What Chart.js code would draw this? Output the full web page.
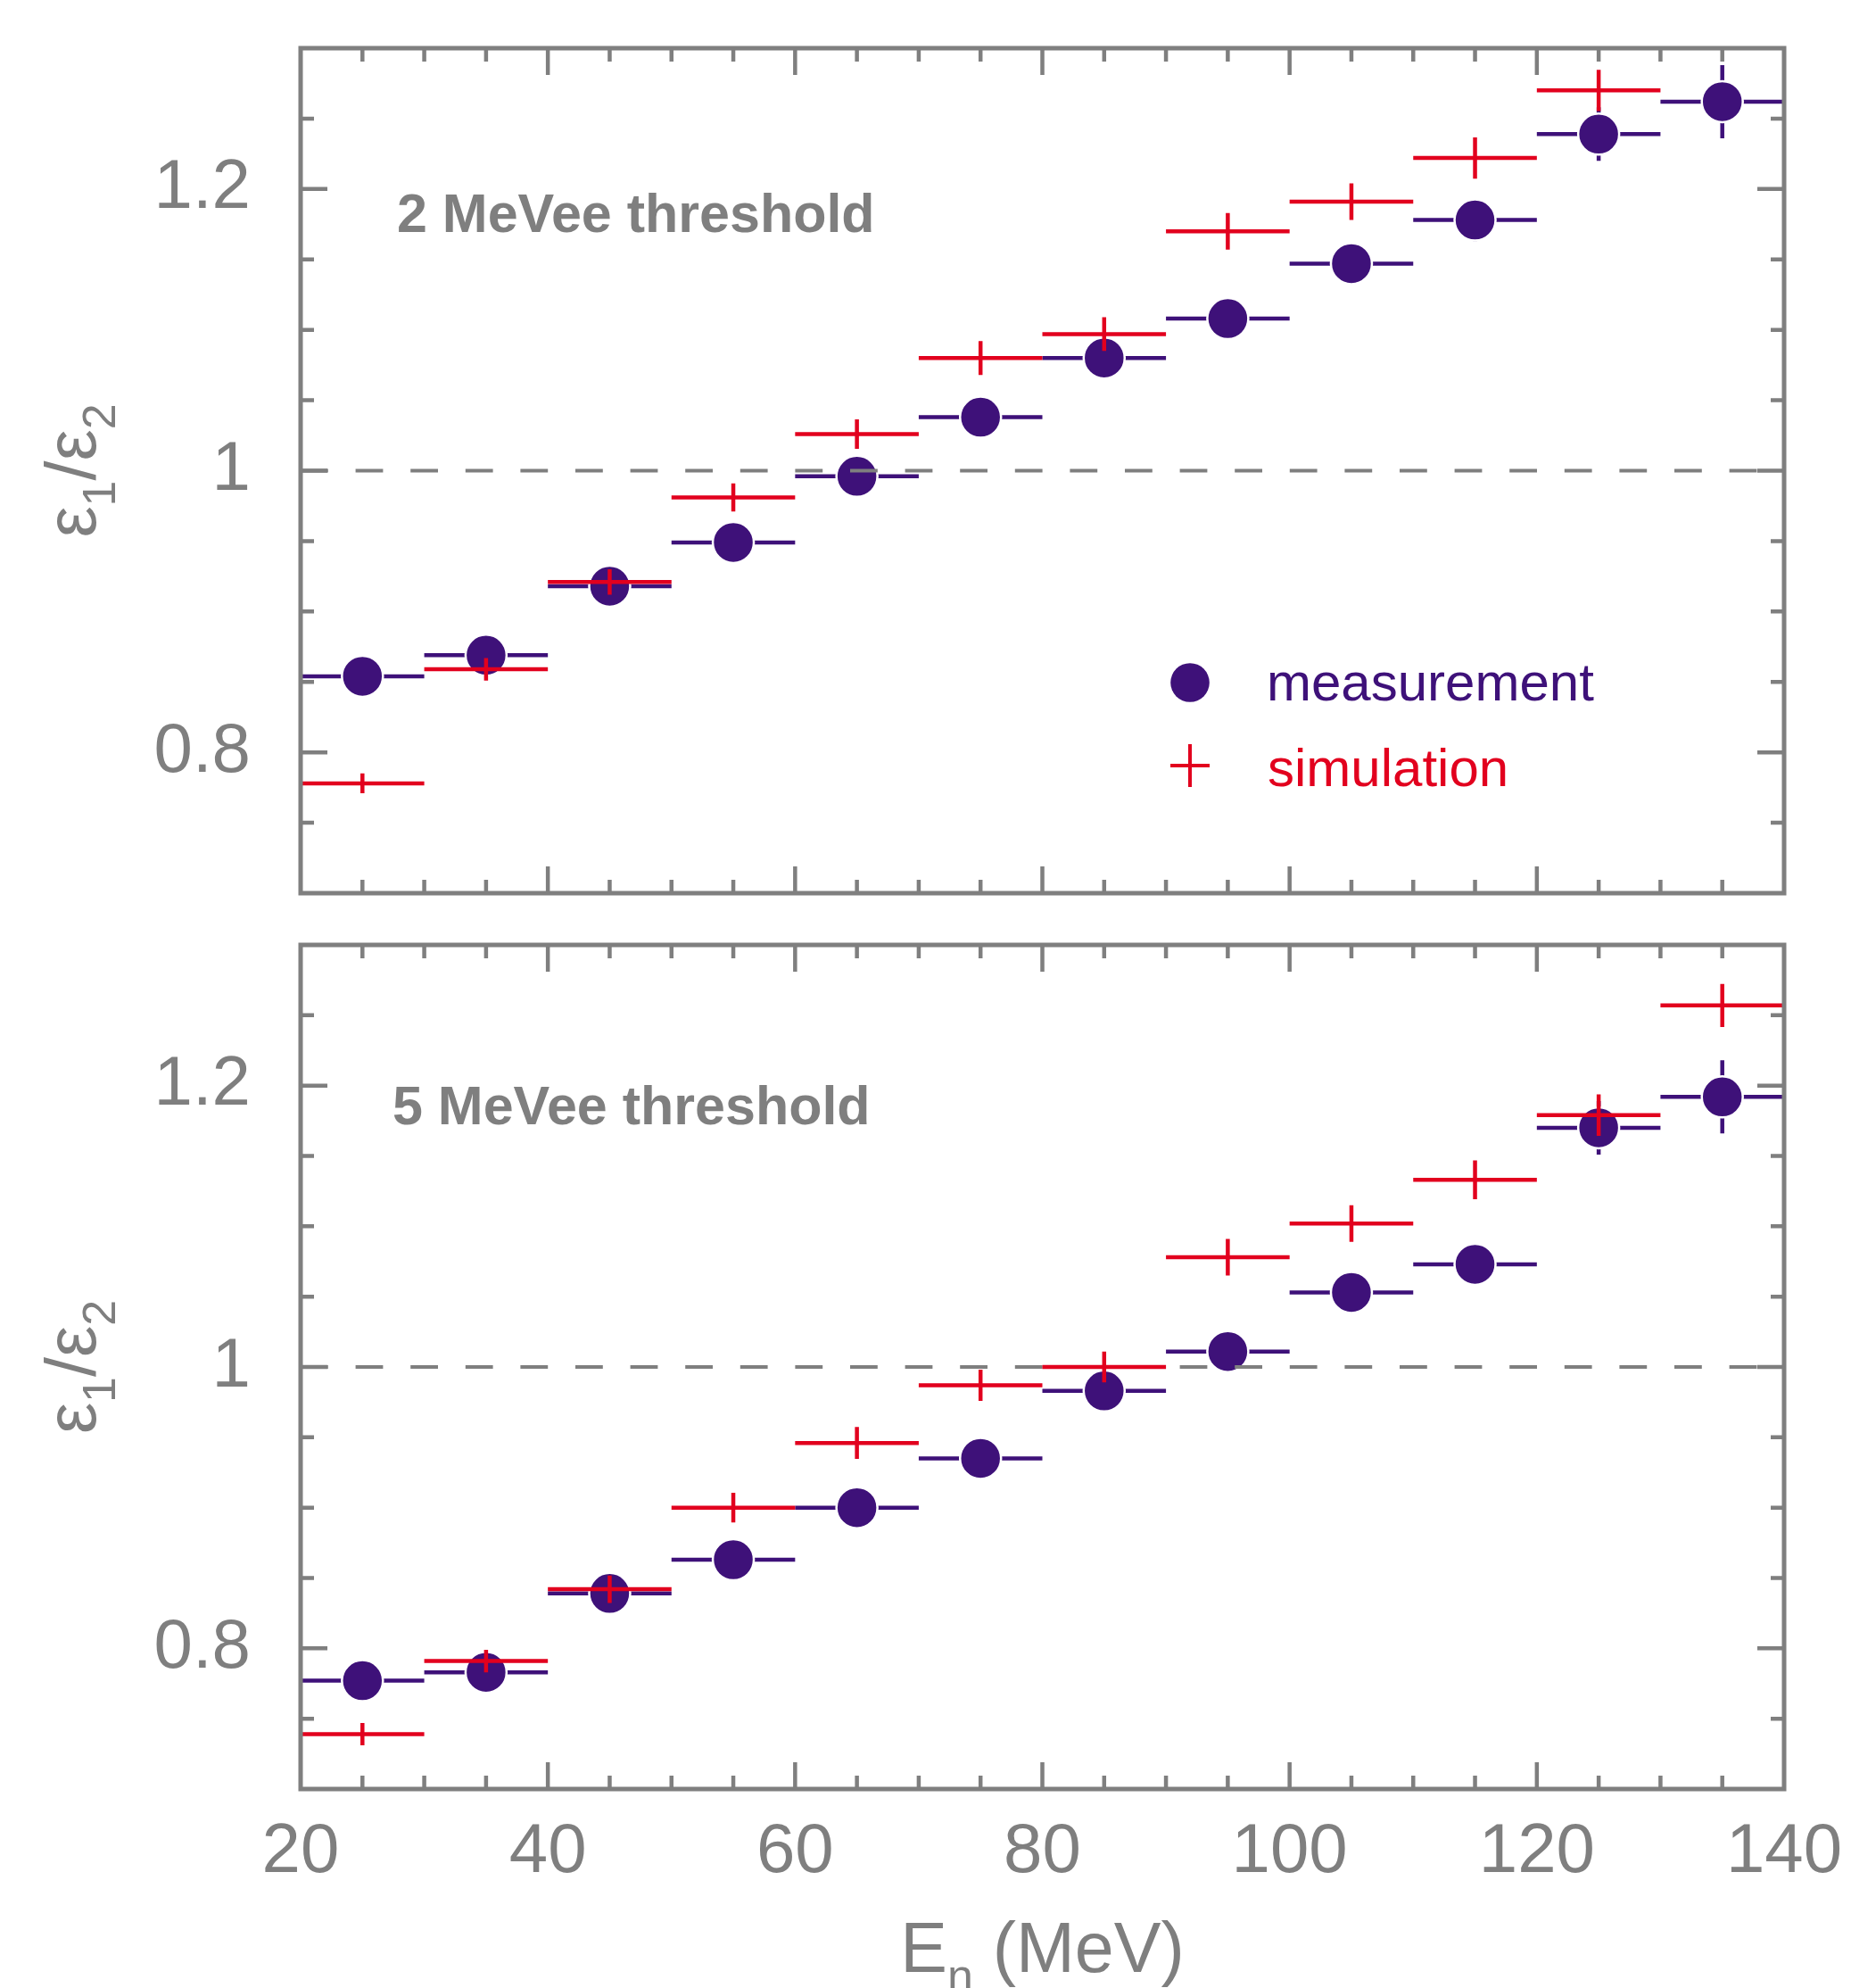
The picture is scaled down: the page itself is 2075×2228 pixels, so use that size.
<!DOCTYPE html>
<html lang="en">
<head>
<meta charset="UTF-8">
<title>Efficiency ratio vs neutron energy</title>
<style>
  html, body { margin: 0; padding: 0; background: #fff; }
  #wrap { position: relative; width: 2075px; height: 2228px; overflow: hidden; }
  #wrap canvas { position: absolute; left: 0; }
  #topChart { top: 0; }
  #bottomChart { top: 1030px; }
</style>
</head>
<body>
<div id="wrap">
  <canvas id="topChart" width="2075" height="1030"></canvas>
  <canvas id="bottomChart" width="2075" height="1198"></canvas>
</div>

<script src="https://cdn.jsdelivr.net/npm/chart.js@4.4.1/dist/chart.umd.min.js"></script>
<script>
// bin centres in MeV, every bin is 10 MeV wide
const energy = [25, 35, 45, 55, 65, 75, 85, 95, 105, 115, 125, 135];
const binWidth = 10;

// 2 MeVee threshold
const meas2    = [0.854, 0.869, 0.918, 0.949, 0.996, 1.038, 1.080, 1.108, 1.147, 1.178, 1.239, 1.262];
const meas2Err = [0.006, 0.007, 0.008, 0.008, 0.009, 0.010, 0.015, 0.012, 0.012, 0.015, 0.019, 0.026];
const sim2     = [0.778, 0.859, 0.921, 0.981, 1.026, 1.080, 1.097, 1.170, 1.191, 1.222, 1.270, null];
const sim2Err  = [0.007, 0.008, 0.009, 0.010, 0.0105, 0.012, 0.012, 0.013, 0.013, 0.0146, 0.0146, null];

// 5 MeVee threshold
const meas5    = [0.777, 0.783, 0.839, 0.863, 0.900, 0.935, 0.983, 1.011, 1.053, 1.073, 1.170, 1.192];
const meas5Err = [0.008, 0.008, 0.009, 0.009, 0.010, 0.010, 0.012, 0.012, 0.013, 0.013, 0.019, 0.026];
const sim5     = [0.739, 0.791, 0.842, 0.900, 0.946, 0.987, 1.000, 1.078, 1.102, 1.133, 1.179, 1.257];
const sim5Err  = [0.008, 0.008, 0.0098, 0.0105, 0.0113, 0.0111, 0.011, 0.013, 0.013, 0.0138, 0.0148, 0.0153];

// axes
const xTickValues = [20, 40, 60, 80, 100, 120, 140];
const yTickValues = [0.8, 1, 1.2];
const xRange = [20, 140];
const yRange = [0.7, 1.3];

const GRAY = '#7f7f7f';
const PURPLE = '#3e1179';
const RED = '#e2001e';
const FONT = '"Liberation Sans", Arial, Helvetica, sans-serif';

// horizontal bin bars + vertical error bars, drawn under each dataset's points
const errorBars = {
    id: 'errorBars',
    beforeDatasetDraw(chart, args) {
        const ds = chart.data.datasets[args.index];
        if (!ds.errors) return;
        const {ctx} = chart;
        const xs = chart.scales.x, ys = chart.scales.y;
        ctx.save();
        ctx.strokeStyle = ds.barColor;
        ctx.lineWidth = 4.5;
        ctx.lineCap = 'butt';
        ds.data.forEach((p, i) => {
            if (p.y == null) return;
            const py = ys.getPixelForValue(p.y);
            const px = xs.getPixelForValue(p.x);
            const x0 = xs.getPixelForValue(p.x - binWidth / 2);
            const x1 = xs.getPixelForValue(p.x + binWidth / 2);
            const err = ds.errors[i] || 0;
            ctx.beginPath();
            ctx.moveTo(x0, py); ctx.lineTo(x1, py);
            ctx.moveTo(px, ys.getPixelForValue(p.y - err));
            ctx.lineTo(px, ys.getPixelForValue(p.y + err));
            ctx.stroke();
        });
        ctx.restore();
    },
    afterDatasetDraw(chart, args) {
        // dashed reference line at 1 sits above the measurement, below the simulation
        if (args.index !== 0) return;
        const {ctx, chartArea: a} = chart;
        const py = chart.scales.y.getPixelForValue(1);
        ctx.save();
        ctx.strokeStyle = GRAY;
        ctx.lineWidth = 4;
        ctx.setLineDash([30.8, 30.8]);
        ctx.beginPath();
        ctx.moveTo(a.left, py); ctx.lineTo(a.right, py);
        ctx.stroke();
        ctx.restore();
    }
};

function drawParts(ctx, parts, cx, baseline) {
    // parts: [text, isSubscript]
    const big = '79px ' + FONT, small = '52px ' + FONT;
    let total = 0;
    parts.forEach(([t, sub]) => { ctx.font = sub ? small : big; total += ctx.measureText(t).width; });
    let x = cx - total / 2;
    ctx.textAlign = 'left';
    ctx.textBaseline = 'alphabetic';
    parts.forEach(([t, sub]) => {
        ctx.font = sub ? small : big;
        ctx.fillText(t, x, baseline + (sub ? 22 : 0));
        x += ctx.measureText(t).width;
    });
}

// frame with inward ticks on all sides, titles, label and legend
const panelDecor = {
    id: 'panelDecor',
    afterDraw(chart, args, opts) {
        const {ctx, chartArea: a} = chart;
        const xs = chart.scales.x, ys = chart.scales.y;
        ctx.save();
        ctx.strokeStyle = GRAY;
        ctx.lineWidth = 4.5;
        ctx.beginPath();
        for (let v = xRange[0] + 5; v < xRange[1]; v += 5) {
            const len = xTickValues.includes(v) ? 30 : 15;
            const px = xs.getPixelForValue(v);
            ctx.moveTo(px, a.top); ctx.lineTo(px, a.top + len);
            ctx.moveTo(px, a.bottom); ctx.lineTo(px, a.bottom - len);
        }
        for (let k = 1; k < 12; k++) {
            const v = yRange[0] + k * 0.05;
            const major = yTickValues.some(t => Math.abs(t - v) < 1e-6);
            const len = major ? 30 : 15;
            const py = ys.getPixelForValue(v);
            ctx.moveTo(a.left, py); ctx.lineTo(a.left + len, py);
            ctx.moveTo(a.right, py); ctx.lineTo(a.right - len, py);
        }
        ctx.stroke();
        ctx.lineWidth = 5;
        ctx.strokeRect(a.left, a.top, a.right - a.left, a.bottom - a.top);

        // y title, rotated
        ctx.fillStyle = GRAY;
        ctx.save();
        ctx.translate(107, (a.top + a.bottom) / 2);
        ctx.rotate(-Math.PI / 2);
        drawParts(ctx, [['ε', false], ['1', true], ['/', false], ['ε', false], ['2', true]], 0, 0);
        ctx.restore();

        // x title
        if (opts.xTitle) {
            drawParts(ctx, [['E', false], ['n', true], [' (MeV)', false]], (a.left + a.right) / 2, a.bottom + 205);
        }

        // threshold label
        ctx.font = 'bold 61px ' + FONT;
        ctx.textAlign = 'left';
        ctx.textBaseline = 'alphabetic';
        ctx.fillText(opts.label, a.left + opts.labelDx, a.top + opts.labelDy);

        if (opts.legend) {
            const lx = a.left + 997;
            ctx.fillStyle = PURPLE;
            ctx.beginPath();
            ctx.arc(lx, a.top + 711, 21.8, 0, Math.PI * 2);
            ctx.fill();
            ctx.font = '60px ' + FONT;
            ctx.fillText('measurement', a.left + 1083, a.top + 731);

            ctx.strokeStyle = RED;
            ctx.lineWidth = 4;
            ctx.beginPath();
            ctx.moveTo(lx - 22, a.top + 804); ctx.lineTo(lx + 22, a.top + 804);
            ctx.moveTo(lx, a.top + 780); ctx.lineTo(lx, a.top + 828);
            ctx.stroke();
            ctx.fillStyle = RED;
            ctx.fillText('simulation', a.left + 1084, a.top + 827);
        }
        ctx.restore();
    }
};

function noPadding(s) {
    s.paddingTop = 0; s.paddingBottom = 0; s.paddingLeft = 0; s.paddingRight = 0;
}

function makePanel(canvasId, meas, measErr, sim, simErr, decor, showXLabels, padTop, xHeight) {
    const ctx = document.getElementById(canvasId).getContext('2d');
    return new Chart(ctx, {
        type: 'scatter',
        data: {
            datasets: [
                {
                    label: 'measurement',
                    data: energy.map((e, i) => ({x: e, y: meas[i]})),
                    errors: measErr,
                    barColor: PURPLE,
                    pointRadius: 23,
                    pointBackgroundColor: PURPLE,
                    pointBorderColor: '#ffffff',
                    pointBorderWidth: 2.5,
                    order: 2
                },
                {
                    label: 'simulation',
                    data: energy.map((e, i) => ({x: e, y: sim[i]})),
                    errors: simErr,
                    barColor: RED,
                    pointRadius: 0,
                    order: 1
                }
            ]
        },
        options: {
            responsive: false,
            animation: false,
            devicePixelRatio: 1,
            events: [],
            layout: { autoPadding: false, padding: { top: padTop, right: 75, bottom: 0, left: 0 } },
            plugins: {
                legend: { display: false },
                tooltip: { enabled: false },
                panelDecor: decor
            },
            scales: {
                x: {
                    type: 'linear',
                    min: xRange[0], max: xRange[1],
                    grid: { display: false, drawTicks: false },
                    border: { display: false },
                    afterBuildTicks: s => { s.ticks = xTickValues.map(v => ({value: v})); },
                    afterFit: s => { s.height = xHeight; noPadding(s); },
                    ticks: {
                        display: showXLabels,
                        autoSkip: false,
                        maxRotation: 0,
                        padding: 25,
                        color: GRAY,
                        font: { family: FONT, size: 78 },
                        callback: v => String(v)
                    }
                },
                y: {
                    type: 'linear',
                    min: yRange[0], max: yRange[1],
                    grid: { display: false, drawTicks: false },
                    border: { display: false },
                    afterBuildTicks: s => { s.ticks = yTickValues.map(v => ({value: v})); },
                    afterFit: s => { s.width = 337; noPadding(s); },
                    ticks: {
                        padding: 56,
                        color: GRAY,
                        font: { family: FONT, size: 78 },
                        callback: v => String(v)
                    }
                }
            }
        },
        plugins: [errorBars, panelDecor]
    });
}

makePanel('topChart', meas2, meas2Err, sim2, sim2Err,
    { label: '2 MeVee threshold', labelDx: 108, labelDy: 206, legend: true, xTitle: false },
    false, 54, 29);

makePanel('bottomChart', meas5, meas5Err, sim5, sim5Err,
    { label: '5 MeVee threshold', labelDx: 103, labelDy: 201, legend: false, xTitle: true },
    true, 29, 223);
</script>
</body>
</html>
